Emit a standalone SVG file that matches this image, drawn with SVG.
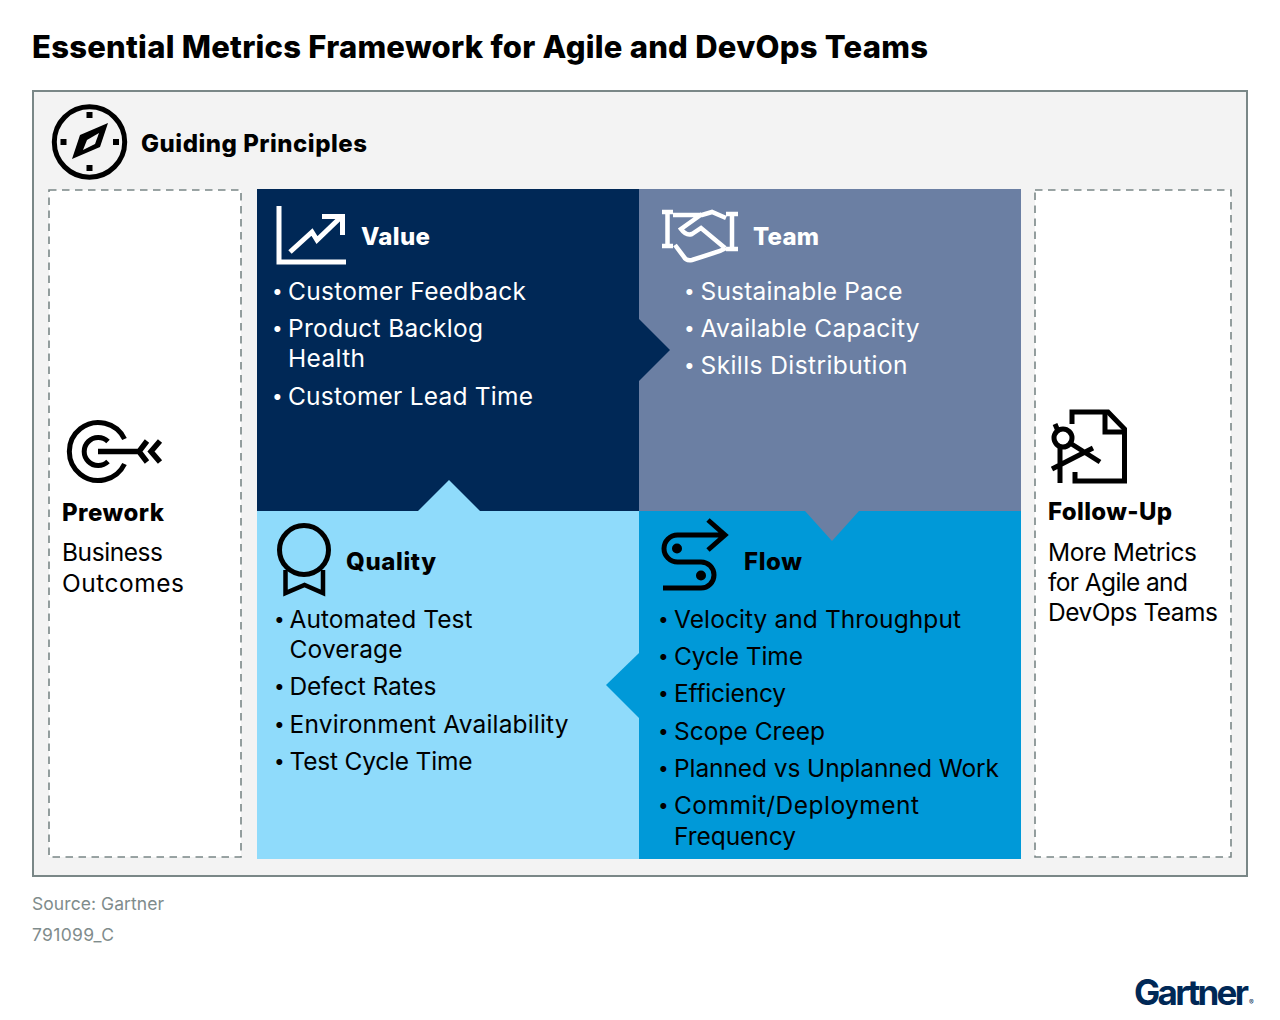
<svg xmlns="http://www.w3.org/2000/svg" width="1280" height="1020" viewBox="0 0 1280 1020">
<style>
text{font-family:"Inter","Liberation Sans",sans-serif;}
.t{font-size:24.5px;font-weight:400;}
.b{font-size:19px;font-weight:400;}
.w{fill:#fff;}
.k{fill:#000;}
.h{font-size:24px;font-weight:800;}
.src{font-size:17.5px;fill:#7f8c8c;}
.si{fill:none;stroke:#fff;stroke-width:5;}
.bi{fill:none;stroke:#000;stroke-width:5;}
.dash{fill:#fff;stroke:#7a8787;stroke-width:1.6;stroke-dasharray:7.5 5.5;}
</style>
<rect width="1280" height="1020" fill="#fff"/>
<text x="32" y="58" font-size="31" font-weight="800" fill="#000" textLength="896">Essential Metrics Framework for Agile and DevOps Teams</text>
<g id="panel">
<rect x="33" y="91" width="1214" height="785" fill="#f3f3f3" stroke="#7a8787" stroke-width="2"/>
</g>
<g id="guiding">
<circle cx="89.500" cy="142" r="35.200" class="bi"/>
<path d="M108 123L100 147L72 159L80 135Z" fill="#000"/>
<path d="M99 133L87 140L83 150L95 144Z" fill="#f3f3f3"/>
<rect x="86.500" y="112" width="6" height="6"/><rect x="86.500" y="165" width="6" height="6"/><rect x="60.500" y="139" width="6" height="6"/><rect x="113" y="139" width="6" height="6"/>
<text x="141" y="152" class="h k" font-size="25" textLength="226">Guiding Principles</text>
</g>
<g id="prework">
<rect x="49" y="190" width="192" height="667" class="dash"/>
<path d="M124.500 439A29 29 0 1 0 124.500 464" class="bi" stroke-width="5"/>
<path d="M108 441.500A14 14 0 1 0 108 461.500" class="bi"/>
<path d="M98 451.500H140M147 441L139 451.500L147 462M160 441L151 451.500L160 462" fill="none" stroke="#000" stroke-width="5.500"/>
<text x="62" y="521" class="h k" textLength="102">Prework</text>
<text x="62" y="561" class="t k" textLength="101">Business</text>
<text x="62" y="592" class="t k" textLength="122">Outcomes</text>
</g>
<g id="followup">
<rect x="1035" y="190" width="196" height="667" class="dash"/>
<path d="M1072 424V412H1108L1124.500 429V481H1075V472" class="bi"/>
<path d="M1105 412V432H1124" class="bi"/>
<circle cx="1063" cy="438" r="9" class="bi"/>
<path d="M1055 424L1058 431M1060 447V483M1070 443L1100 462M1052 469L1093 448" class="bi"/>
<text x="1048" y="520" class="h k" textLength="124">Follow-Up</text>
<text x="1048" y="561" class="t k" textLength="149">More Metrics</text>
<text x="1048" y="591" class="t k" textLength="140">for Agile and</text>
<text x="1048" y="621" class="t k" textLength="170">DevOps Teams</text>
</g>
<g id="team">
<rect x="639" y="189" width="382" height="322" fill="#6b7fa3"/>
<path d="M662 212H673M667.500 212V246M662 246H673M726 214H738M732 214V249M726 249H738M673 215H702L712 212L726 218M726 248L720 251L692 260Q686 261 684 257L675 245M702 214L681 229Q686 236 692 234L701 228L725 248" fill="none" stroke="#fff" stroke-width="4.500"/>
<text x="753" y="245" class="h w" textLength="66">Team</text>
<text x="684" y="298" class="b w">•</text><text x="700.500" y="300" class="t w" textLength="202">Sustainable Pace</text>
<text x="684" y="335" class="b w">•</text><text x="700.500" y="337" class="t w" textLength="219">Available Capacity</text>
<text x="684" y="372" class="b w">•</text><text x="700.500" y="374" class="t w" textLength="207">Skills Distribution</text>
</g>
<g id="flow">
<rect x="639" y="511" width="382" height="348" fill="#0099d8"/>
<path d="M805 511L832 541L859 511Z" fill="#6b7fa3"/>
<path d="M724 535H677.500A13.500 13.500 0 0 0 677.500 562H701A13 13 0 0 1 701 588H663M708 520L725 535L708 550" class="bi"/>
<circle cx="677" cy="548.500" r="5"/><circle cx="701" cy="575.500" r="5"/>
<text x="744" y="570" class="h k" textLength="58">Flow</text>
<text x="658" y="626" class="b k">•</text><text x="674" y="628" class="t k" textLength="287">Velocity and Throughput</text>
<text x="658" y="663" class="b k">•</text><text x="674" y="665" class="t k" textLength="129">Cycle Time</text>
<text x="658" y="700" class="b k">•</text><text x="674" y="702" class="t k" textLength="112">Efficiency</text>
<text x="658" y="738" class="b k">•</text><text x="674" y="740" class="t k" textLength="151">Scope Creep</text>
<text x="658" y="775" class="b k">•</text><text x="674" y="777" class="t k" textLength="325">Planned vs Unplanned Work</text>
<text x="658" y="812" class="b k">•</text><text x="674" y="814" class="t k" textLength="245">Commit/Deployment</text>
<text x="674" y="845" class="t k" textLength="122">Frequency</text>
</g>
<g id="value">
<rect x="257" y="189" width="382" height="322" fill="#002856"/>
<path d="M639 319L670 350L639 381Z" fill="#002856"/>
<path d="M279 206V262H346" class="si"/>
<path d="M290 252L312 232L317 240L341 217M322 216.500H342.500V235" class="si"/>
<text x="361" y="245" class="h w" textLength="69">Value</text>
<text x="272" y="298" class="b w">•</text><text x="288" y="300" class="t w" textLength="238">Customer Feedback</text>
<text x="272" y="335" class="b w">•</text><text x="288" y="337" class="t w" textLength="195">Product Backlog</text>
<text x="288" y="367" class="t w" textLength="77">Health</text>
<text x="272" y="403" class="b w">•</text><text x="288" y="405" class="t w" textLength="245">Customer Lead Time</text>
</g>
<g id="quality">
<rect x="257" y="511" width="382" height="348" fill="#8fdbfb"/>
<path d="M418 511L449 480L480 511Z" fill="#8fdbfb"/>
<path d="M639 653L606 685L639 718Z" fill="#0099d8"/>
<circle cx="304" cy="550" r="24.500" class="bi"/>
<path d="M285.500 570V593L304.500 585L323 593V570" fill="none" stroke="#000" stroke-width="4.500"/>
<text x="346" y="570" class="h k" textLength="90">Quality</text>
<text x="274" y="626" class="b k">•</text><text x="289.500" y="628" class="t k" textLength="183">Automated Test</text>
<text x="289.500" y="658" class="t k" textLength="113">Coverage</text>
<text x="274" y="693" class="b k">•</text><text x="289.500" y="695" class="t k" textLength="147">Defect Rates</text>
<text x="274" y="731" class="b k">•</text><text x="289.500" y="733" class="t k" textLength="279">Environment Availability</text>
<text x="274" y="768" class="b k">•</text><text x="289.500" y="770" class="t k" textLength="183">Test Cycle Time</text>
</g>
<g id="footer">
<text x="32" y="910" class="src" textLength="132">Source: Gartner</text>
<text x="32" y="941" class="src" textLength="82">791099_C</text>
</g>
<g id="logo">
<text x="1134" y="1005" font-size="35" font-weight="700" fill="#002856" textLength="115">Gartner</text>
<text x="1249" y="1005" font-size="7" fill="#002856">®</text>
</g>
</svg>
